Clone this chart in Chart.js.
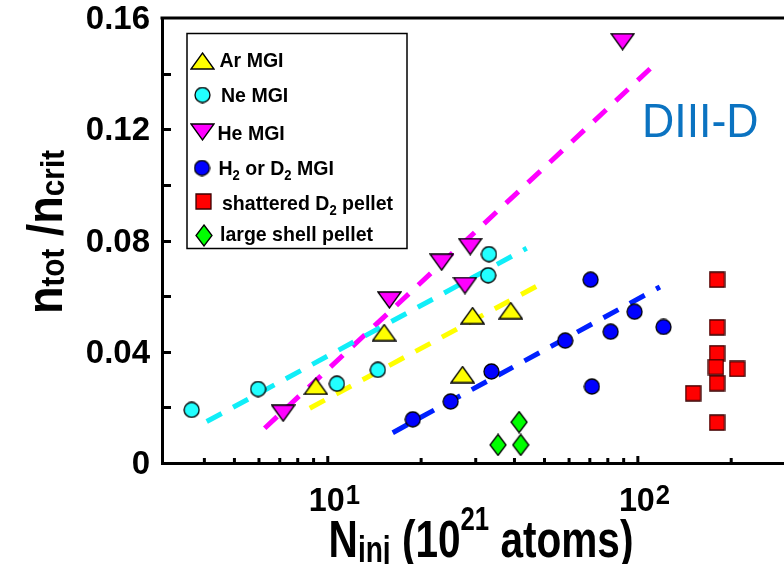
<!DOCTYPE html>
<html>
<head>
<meta charset="utf-8">
<script src="https://cdn.jsdelivr.net/npm/chart.js@4.4.1/dist/chart.umd.min.js"></script>
<style>
  html, body { margin: 0; padding: 0; background: #fff; overflow: hidden; }
</style>
</head>
<body>
<canvas id="plot" width="784" height="564"></canvas>
<script>
const FONT = '"Liberation Sans", Arial, sans-serif';

// points: [N_inj (1e21 atoms), n_tot/n_crit]
const arMGI = [[9.15, 0.0276], [15.2, 0.0469], [27.2, 0.0318], [29.3, 0.0530], [38.9, 0.0548]];
const neMGI = [[3.64, 0.0191], [5.96, 0.0266], [10.7, 0.0285], [14.5, 0.0335], [32.9, 0.0675], [33.1, 0.0751]];
const heMGI = [[7.18, 0.0179], [15.8, 0.0586], [23.3, 0.0722], [27.7, 0.0638], [28.8, 0.0778], [89.3, 0.1515]];
const hdMGI = [[18.8, 0.0157], [24.9, 0.0221], [33.7, 0.0329], [58.3, 0.0440], [70.4, 0.0659],
               [71.1, 0.0275], [81.7, 0.0472], [97.6, 0.0544], [121, 0.0489]];
const shatteredD2 = [[180, 0.0659], [180, 0.0488], [180, 0.0395], [178.6, 0.0345], [209, 0.0338],
                     [180, 0.0287], [150.8, 0.0251], [180, 0.0145]];
const shellPellet = [[35.4, 0.0065], [41.4, 0.0147], [41.9, 0.0065]];

// dashed trend lines, end points
const arFit = [[8.75, 0.0197], [48.9, 0.0645]];
const neFit = [[4.07, 0.0149], [43.8, 0.0772]];
const heFit = [[6.26, 0.0125], [109.9, 0.1419]];
const hdFit = [[16.2, 0.0109], [117.8, 0.0633]];

// legend labels, [text, isSubscript]
const legendLabels = [
  [['Ar MGI']],
  [['Ne MGI']],
  [['He MGI']],
  [['H'], ['2', 1], [' or D'], ['2', 1], [' MGI']],
  [['shattered D'], ['2', 1], [' pellet']],
  [['large shell pellet']]
];

// axes
const xMin = 2.92, xMax = 296;
const xMajor = [10, 100];
const xMajorLabels = [['10', '1'], ['10', '2']];
const xMinor = [4, 5, 6, 7, 8, 9, 20, 30, 40, 50, 60, 70, 80, 90, 200];
const yTicks = [0, 0.02, 0.04, 0.06, 0.08, 0.10, 0.12, 0.14, 0.16];
const yTickLabels = ['0', '', '0.04', '', '0.08', '', '0.12', '', '0.16'];

function marker(shape, fill, stroke) {
  const dims = { tri: [25, 18], triDown: [25, 18], circle: [17, 17], square: [17, 17], diamond: [18, 23] }[shape];
  const c = document.createElement('canvas');
  c.width = dims[0]; c.height = dims[1];
  const g = c.getContext('2d');
  const w = c.width, h = c.height;
  g.beginPath();
  if (shape === 'tri') { g.moveTo(w / 2, 1); g.lineTo(w - 1, h - 1); g.lineTo(1, h - 1); }
  else if (shape === 'triDown') { g.moveTo(1, 1); g.lineTo(w - 1, 1); g.lineTo(w / 2, h - 1); }
  else if (shape === 'circle') g.arc(w / 2, h / 2, w / 2 - 1, 0, Math.PI * 2);
  else if (shape === 'square') g.rect(1, 1, w - 2, h - 2);
  else { g.moveTo(w / 2, 1); g.lineTo(w - 1, h / 2); g.lineTo(w / 2, h - 1); g.lineTo(1, h / 2); }
  g.closePath();
  g.fillStyle = fill; g.fill();
  g.lineWidth = 1.3; g.strokeStyle = stroke; g.stroke();
  return c;
}

const markers = [
  marker('tri', '#ffff00', '#000'),
  marker('circle', '#22ffff', '#000'),
  marker('triDown', '#ff00ff', '#000'),
  marker('circle', '#0000ff', '#000'),
  marker('square', '#ff0000', '#3a0000'),
  marker('diamond', '#00ff00', '#000')
];

const pts = arr => arr.map(p => ({ x: p[0], y: p[1] }));
const fitSet = (arr, color) => ({
  data: pts(arr), showLine: true, borderColor: color, borderWidth: 5,
  borderDash: [17, 13], pointRadius: 0, fill: false, order: 1
});
const markSet = (arr, img) => ({ data: pts(arr), pointStyle: img, pointRadius: 8, showLine: false, order: 0 });

// draws a run of text pieces: [text, size, dy]
function rich(ctx, parts, x, y, align, hs, weight) {
  ctx.save();
  ctx.translate(x, y);
  ctx.scale(hs, 1);
  ctx.textAlign = 'left';
  ctx.textBaseline = 'alphabetic';
  let w = 0;
  parts.forEach(p => { ctx.font = `${weight} ${p[1]}px ${FONT}`; w += ctx.measureText(p[0]).width; });
  let cx = align === 'center' ? -w / 2 : (align === 'right' ? -w : 0);
  parts.forEach(p => {
    ctx.font = `${weight} ${p[1]}px ${FONT}`;
    ctx.fillText(p[0], cx, p[2]);
    cx += ctx.measureText(p[0]).width;
  });
  ctx.restore();
}

const decor = {
  id: 'decor',
  afterDraw(chart) {
    const { ctx, chartArea: a, scales: { x, y } } = chart;
    ctx.save();
    ctx.strokeStyle = '#000';
    ctx.fillStyle = '#000';
    ctx.lineWidth = 3;
    const seg = (x1, y1, x2, y2) => { ctx.beginPath(); ctx.moveTo(x1, y1); ctx.lineTo(x2, y2); ctx.stroke(); };

    // top frame line
    seg(a.left - 1.5, a.top, a.right, a.top);

    // inward tick marks
    yTicks.forEach(v => {
      if (v <= 0 || v >= 0.16) return;
      const py = Math.round(y.getPixelForValue(v)) + 0.5;
      seg(a.left, py, a.left + 9, py);
    });
    xMinor.forEach(v => { const px = x.getPixelForValue(v); seg(px, a.bottom, px, a.bottom - 5); });
    xMajor.forEach(v => { const px = x.getPixelForValue(v); seg(px, a.bottom, px, a.bottom - 7); });

    // x tick labels 10^1, 10^2
    xMajor.forEach((v, i) => {
      const px = x.getPixelForValue(v) - 1;
      const [base, sup] = xMajorLabels[i];
      ctx.save();
      ctx.translate(px, 511);
      ctx.scale(0.95, 1);
      ctx.font = `bold 34px ${FONT}`;
      const bw = ctx.measureText(base).width;
      ctx.textAlign = 'left';
      ctx.textBaseline = 'alphabetic';
      ctx.fillText(base, -bw / 2, 0);
      ctx.font = `bold 27px ${FONT}`;
      ctx.fillText(sup, bw / 2 + 1, -7);
      ctx.restore();
    });

    // x axis title
    rich(ctx, [['N', 52, 0], ['inj', 36, 5], [' (', 52, 0], ['10', 52, 0], ['21', 33, -27], [' atoms)', 52, 0]],
      481, 557, 'center', 0.78, 'bold');

    // y axis title
    ctx.save();
    ctx.translate(62, 232);
    ctx.rotate(-Math.PI / 2);
    rich(ctx, [['n', 50, 0], ['tot', 33, 2], [' /', 50, 0], ['n', 50, 0], ['crit', 33, 2]], 0, 0, 'center', 0.9, 'bold');
    ctx.restore();

    // legend box
    ctx.fillStyle = '#fff';
    ctx.fillRect(187, 33.5, 220, 215);
    ctx.lineWidth = 1.5;
    ctx.strokeRect(187, 33.5, 220, 215);
    ctx.fillStyle = '#000';
    const rows = [
      { mx: 202.5, my: 61, tx: 219.5, ty: 66.5 },
      { mx: 202.5, my: 95, tx: 221, ty: 101.5 },
      { mx: 202.5, my: 132, tx: 217.5, ty: 140 },
      { mx: 202, my: 168, tx: 218.5, ty: 175 },
      { mx: 203.5, my: 201.5, tx: 222, ty: 210 },
      { mx: 204, my: 235.5, tx: 220, ty: 240.5 }
    ];
    rows.forEach((r, i) => {
      const img = markers[i];
      ctx.drawImage(img, r.mx - img.width / 2, r.my - img.height / 2);
      const parts = legendLabels[i].map(p => p[1] ? [p[0], 14, 5] : [p[0], 21, 0]);
      rich(ctx, parts, r.tx, r.ty, 'left', 0.93, 'bold');
    });

    // machine label
    ctx.fillStyle = '#0b73c1';
    rich(ctx, [['DIII-D', 48, 0]], 642, 137, 'left', 0.93, 'normal');
    ctx.restore();
  }
};

new Chart(document.getElementById('plot'), {
  type: 'scatter',
  data: {
    datasets: [
      fitSet(neFit, '#10eef8'),
      fitSet(heFit, '#ff00ff'),
      fitSet(arFit, '#ffff00'),
      fitSet(hdFit, '#0020ff'),
      markSet(arMGI, markers[0]),
      markSet(neMGI, markers[1]),
      markSet(heMGI, markers[2]),
      markSet(hdMGI, markers[3]),
      markSet(shatteredD2, markers[4]),
      markSet(shellPellet, markers[5])
    ]
  },
  options: {
    responsive: false,
    animation: false,
    devicePixelRatio: 1,
    layout: { autoPadding: false, padding: { top: 18, right: 0, left: 0, bottom: 0 } },
    plugins: { legend: { display: false }, tooltip: { enabled: false } },
    scales: {
      x: {
        type: 'logarithmic',
        min: xMin,
        max: xMax,
        ticks: { display: false },
        grid: { display: false, drawTicks: false },
        border: { display: true, width: 3, color: '#000' },
        afterFit: s => { s.height = 101; s.paddingLeft = 0; s.paddingRight = 0; }
      },
      y: {
        min: 0,
        max: 0.16,
        afterBuildTicks: s => { s.ticks = yTicks.map(v => ({ value: v })); },
        ticks: {
          callback: (v, i) => yTickLabels[i],
          font: { family: FONT, size: 33, weight: 'bold' },
          color: '#000',
          padding: 12,
          labelOffset: 2
        },
        grid: { display: false, drawTicks: false },
        border: { display: true, width: 3, color: '#000' },
        afterFit: s => { s.width = 162; s.paddingTop = 0; s.paddingBottom = 0; }
      }
    }
  },
  plugins: [decor]
});
</script>
</body>
</html>
